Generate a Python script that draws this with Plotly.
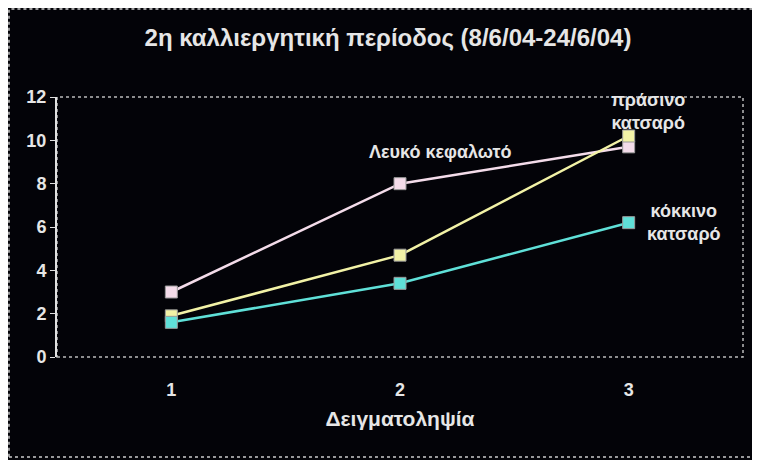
import plotly.graph_objects as go

samples = [1, 2, 3]
series_names = ['Λευκό κεφαλωτό', 'πράσινο κατσαρό', 'κόκκινο κατσαρό']
leuko = [3.0, 8.0, 9.7]
prasino = [1.9, 4.7, 10.2]
kokkino = [1.6, 3.4, 6.2]

colors = ['#f4dcea', '#f2f2a6', '#5fe0d8']
values = [leuko, prasino, kokkino]

fig = go.Figure()
for name, vals, col in zip(series_names, values, colors):
    fig.add_trace(go.Scatter(x=samples, y=vals, mode='lines+markers', name=name,
                             line=dict(color=col, width=2.5),
                             marker=dict(symbol='square', size=12, color=col,
                                         line=dict(color='#999999', width=1))))

FONT = 'Liberation Sans, Arial'
txt = dict(family=FONT, color='#e6e6e6', size=18, weight='bold')

# series labels next to the points
fig.add_annotation(x=samples[1], y=leuko[1], text=series_names[0], showarrow=False,
                   xshift=40, yshift=32, font=txt)
fig.add_annotation(x=samples[2], y=prasino[2], text='πράσινο<br>κατσαρό', showarrow=False,
                   xshift=19, yshift=25, font=txt)
fig.add_annotation(x=samples[2], y=kokkino[2], text='κόκκινο<br>κατσαρό', showarrow=False,
                   xshift=55, yshift=0, font=txt)

fig.update_layout(
    width=760, height=460,
    paper_bgcolor='#030308', plot_bgcolor='#030308',
    showlegend=False,
    margin=dict(l=49, r=25, t=89, b=111),
    title=dict(text='2η καλλιεργητική περίοδος (8/6/04-24/6/04)', x=0.5, xanchor='center',
               y=0.935, yanchor='middle',
               font=dict(family=FONT, size=24, color='#e6e6e6', weight='bold')),
    xaxis=dict(range=[0.5, 3.5], tickvals=samples, ticktext=[str(s) for s in samples],
               showgrid=False, zeroline=False, showline=False, ticks='',
               tickfont=txt, ticklabelstandoff=20,
               title=dict(text='Δειγματοληψία', standoff=12,
                          font=dict(family=FONT, size=21, color='#e6e6e6', weight='bold'))),
    yaxis=dict(range=[0, 12], dtick=2, showgrid=False, zeroline=False,
               showline=True, linecolor='#e0e0e0', linewidth=2, ticks='outside',
               tickcolor='#e0e0e0', ticklen=5, tickfont=txt),
)

# plot area border and outer chart border
fig.add_shape(type='rect', xref='paper', yref='paper', x0=0, y0=0, x1=1, y1=1,
              line=dict(color='#bbbbbb', width=1.5, dash='dot'), layer='below')
fig.add_shape(type='rect', xref='paper', yref='paper', x0=-0.07, y0=-0.385, x1=1.02, y1=1.338,
              line=dict(color='#cccccc', width=1.5, dash='dot'), layer='below')

fig.write_html('out.html')
